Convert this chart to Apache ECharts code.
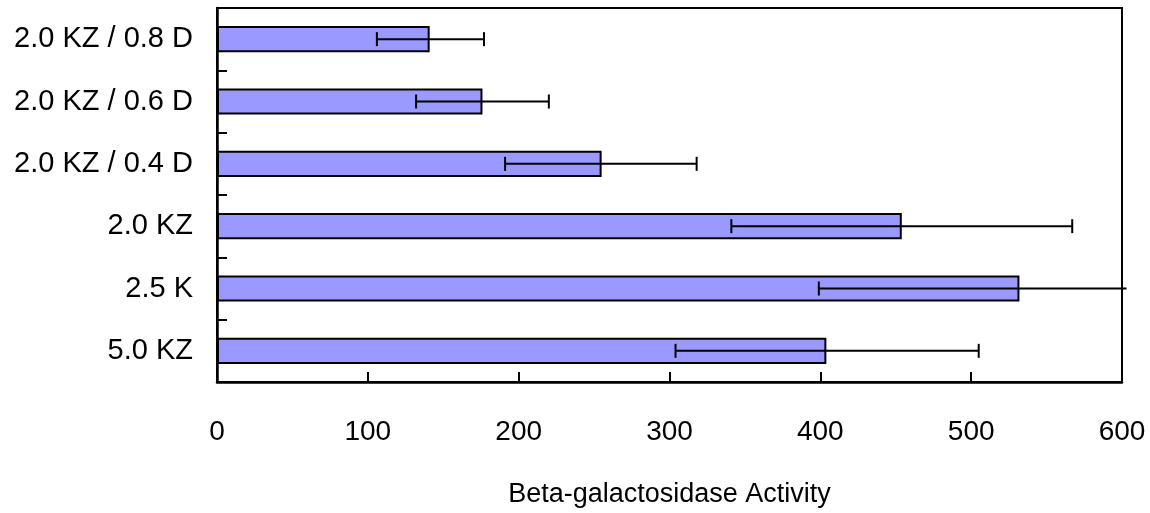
<!DOCTYPE html>
<html>
<head>
<meta charset="utf-8">
<script src="https://cdn.jsdelivr.net/npm/echarts@6/dist/echarts.min.js"></script>
<style>
html,body{margin:0;padding:0;background:#fff;}
#chart{width:1150px;height:513px;}
</style>
</head>
<body>
<div id="chart"></div>
<script>
var categories = ['5.0 KZ', '2.5 K', '2.0 KZ', '2.0 KZ / 0.4 D', '2.0 KZ / 0.6 D', '2.0 KZ / 0.8 D'];
var activity = [404, 532, 454, 255, 176, 141];
var errLow = [304, 399, 341, 191, 132, 106];
var errHigh = [505, 603, 567, 318, 220, 177];
var xTicks = [0, 100, 200, 300, 400, 500, 600];
var xAxisName = 'Beta-galactosidase Activity';

var xMin = xTicks[0], xMax = xTicks[xTicks.length - 1];
var errData = categories.map(function (c, i) { return [i, errLow[i], errHigh[i]]; });
var font = '"Liberation Sans", Arial, Helvetica, sans-serif';

var chart = echarts.init(document.getElementById('chart'), null, {renderer: 'canvas'});
chart.setOption({
  animation: false,
  backgroundColor: '#ffffff',
  grid: {
    left: 217, right: 28, top: 8, bottom: 130,
    show: true, borderColor: '#000', borderWidth: 2, backgroundColor: 'transparent'
  },
  xAxis: {
    type: 'value',
    min: xMin, max: xMax, interval: 100,
    name: xAxisName,
    nameLocation: 'middle',
    nameGap: 99,
    nameTextStyle: {fontFamily: font, fontSize: 27, color: '#000'},
    axisLine: {show: true, lineStyle: {color: '#000', width: 2.5}},
    axisTick: {show: true, inside: true, length: 10, lineStyle: {color: '#000', width: 2}},
    axisLabel: {margin: 36, fontFamily: font, fontSize: 28, color: '#000'},
    splitLine: {show: false}
  },
  yAxis: {
    type: 'category',
    data: categories,
    axisLine: {show: true, lineStyle: {color: '#000', width: 2.5}},
    axisTick: {show: true, inside: true, length: 10, lineStyle: {color: '#000', width: 2}},
    axisLabel: {margin: 24, fontFamily: font, fontSize: 29, color: '#000'},
    splitLine: {show: false}
  },
  series: [
    {
      type: 'bar',
      data: activity,
      barCategoryGap: '58%',
      itemStyle: {color: '#9999ff', borderColor: '#000', borderWidth: 2},
      z: 2
    },
    {
      type: 'custom',
      data: errData,
      encode: {x: [1, 2], y: 0},
      clip: false,
      z: 5,
      renderItem: function (params, api) {
        var cat = api.value(0), lo = api.value(1), hi = api.value(2);
        var pLo = api.coord([lo, cat]);
        var pHi = api.coord([hi, cat]);
        var h = 7;
        var st = {stroke: '#000', lineWidth: 2};
        var children = [
          {type: 'line', shape: {x1: pLo[0], y1: pLo[1], x2: pHi[0], y2: pHi[1]}, style: st},
          {type: 'line', shape: {x1: pLo[0], y1: pLo[1] - h, x2: pLo[0], y2: pLo[1] + h}, style: st}
        ];
        if (hi <= xMax) {
          children.push({type: 'line', shape: {x1: pHi[0], y1: pHi[1] - h, x2: pHi[0], y2: pHi[1] + h}, style: st});
        }
        return {type: 'group', children: children};
      }
    }
  ]
});
</script>
</body>
</html>
